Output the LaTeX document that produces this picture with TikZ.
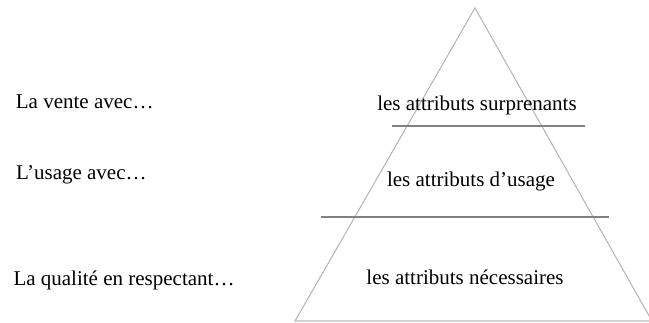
\documentclass[tikz,border=0pt]{standalone}
\usepackage{fontspec}
\setmainfont{Liberation Serif}
\usepackage{tikz}

\tikzset{
  label text/.style={inner sep=0pt, font=\fontsize{21}{25}\selectfont},
  pyramid side/.style={line width=1.1pt, color=black!28},
  layer line/.style={line width=1.6pt, color=black!50},
}

\begin{document}
\begin{tikzpicture}[x=1pt,y=-1pt]

\useasboundingbox (0,0) rectangle (649,322);
\clip (0,0) rectangle (649,322);

\draw[pyramid side]
  (475,8) -- (295,321) -- (652,321) -- cycle;

\draw[layer line]
  (392,126) to (585,126);

\draw[layer line]
  (321,217) to (609,217);

\node[label text] (top)    at (477,105) {les attributs surprenants};
\node[label text] (middle) at (471,181) {les attributs d’usage};
\node[label text] (bottom) at (465,277) {les attributs nécessaires};

\node[label text, anchor=west] (vente)   at (15.7,102) {La vente avec…};
\node[label text, anchor=west] (usage)   at (16,175)   {L’usage avec…};
\node[label text, anchor=west] (qualite) at (13.3,280) {La qualité en respectant…};

\end{tikzpicture}
\end{document}
